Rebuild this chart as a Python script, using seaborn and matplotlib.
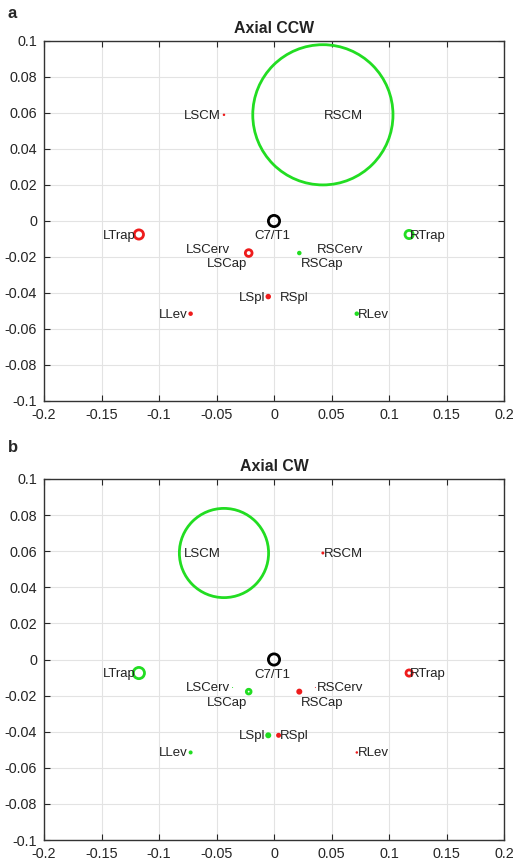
import numpy as np
import pandas as pd
import matplotlib
matplotlib.use("Agg")
import matplotlib.pyplot as plt
import seaborn as sns


# muscle attachment points (same in both panels)
names = ["C7/T1", "LTrap", "LSCerv", "LSCap", "LSpl", "LLev", "LSCM",
         "RTrap", "RSCerv", "RSCap", "RSpl", "RLev", "RSCM"]
x_pos = [0.0, -0.1175, -0.036, -0.022, -0.005, -0.0725, -0.0435,
         0.1175, 0.036, 0.022, 0.004, 0.072, 0.0425]
y_pos = [0.0, -0.0075, -0.0155, -0.0178, -0.042, -0.0515, 0.059,
         -0.0075, -0.0155, -0.0178, -0.042, -0.0515, 0.059]
side = ["ref", "L", "L", "L", "L", "L", "L", "R", "R", "R", "R", "R", "R"]

# marker magnitude per muscle (circle diameter)
mag_ccw = [14, 12, 0, 9.5, 5.5, 4.5, 2.5, 11, 0, 4.5, 0, 4.5, 143]
mag_cw = [14, 14, 1, 7.5, 6, 4, 92, 9, 1, 6, 5, 2.5, 3]

titles = ["Axial CCW", "Axial CW"]
panel_letters = ["a", "b"]

x_ticks = [-0.2, -0.15, -0.1, -0.05, 0, 0.05, 0.1, 0.15, 0.2]
x_ticklabels = ["-0.2", "-0.15", "-0.1", "-0.05", "0", "0.05", "0.1", "0.15", "0.2"]
y_ticks = [-0.1, -0.08, -0.06, -0.04, -0.02, 0, 0.02, 0.04, 0.06, 0.08, 0.1]
y_ticklabels = ["-0.1", "-0.08", "-0.06", "-0.04", "-0.02", "0",
                "0.02", "0.04", "0.06", "0.08", "0.1"]

RED = "#ee1c1c"
GREEN = "#22dd22"
side_colors = [{"ref": "black", "L": RED, "R": GREEN},
               {"ref": "black", "L": GREEN, "R": RED}]

sns.set_theme(style="ticks")
plt.rcParams["font.family"] = ["Liberation Sans", "DejaVu Sans"]

fig = plt.figure(figsize=(5.13, 8.68), dpi=100)
ax_a = fig.add_axes([44 / 513, (868 - 401) / 868, 460 / 513, 360 / 868])
ax_b = fig.add_axes([44 / 513, (868 - 840) / 868, 460 / 513, 361 / 868])


def draw_panel(ax, mags, colors, title):
    df = pd.DataFrame({"x": x_pos, "y": y_pos, "name": names, "side": side, "mag": mags})
    outer_pt = df["mag"].to_numpy(dtype=float) * 0.72
    lw = np.minimum(2.0, outer_pt / 2)
    diam = outer_pt - lw
    sns.scatterplot(data=df, x="x", y="y", s=diam ** 2, marker="o",
                    facecolor="none", edgecolor=[colors[s] for s in df["side"]],
                    linewidth=lw, legend=False, ax=ax, zorder=3)

    for _, r in df.iterrows():
        if r["side"] == "ref":
            ha, off = "center", (-2, -15)
        elif r["side"] == "L":
            ha, off = "right", (-3, -1)
        else:
            ha, off = "left", (1, -1)
        if r["name"].endswith("SCap"):
            off = (off[0] + 1, -11)
        ax.annotate(r["name"], (r["x"], r["y"]), xytext=off, textcoords="offset pixels",
                    ha=ha, va="center", fontsize=9.5, color="#222222", zorder=4)

    ax.set_xlim(-0.2, 0.2)
    ax.set_ylim(-0.1, 0.1)
    ax.set_xticks(x_ticks)
    ax.set_xticklabels(x_ticklabels)
    ax.set_yticks(y_ticks)
    ax.set_yticklabels(y_ticklabels)
    ax.set_xlabel("")
    ax.set_ylabel("")
    ax.grid(True, color="#e3e3e3", linewidth=0.8, zorder=0)
    ax.set_axisbelow(True)
    ax.tick_params(direction="in", length=4, width=0.8, top=True, right=True,
                   labelsize=10.4, colors="#262626", pad=5)
    for sp in ax.spines.values():
        sp.set_visible(True)
        sp.set_color("#333333")
        sp.set_linewidth(1.0)
    ax.set_title(title, fontsize=11.4, fontweight="bold", pad=6, color="#222222")


draw_panel(ax_a, mag_ccw, side_colors[0], titles[0])
draw_panel(ax_b, mag_cw, side_colors[1], titles[1])

fig.text(8 / 513, 1 - 13 / 868, panel_letters[0], fontsize=12, fontweight="bold",
         va="center", ha="left")
fig.text(8 / 513, 1 - 447 / 868, panel_letters[1], fontsize=12, fontweight="bold",
         va="center", ha="left")

fig.savefig("out.png", dpi=100)
